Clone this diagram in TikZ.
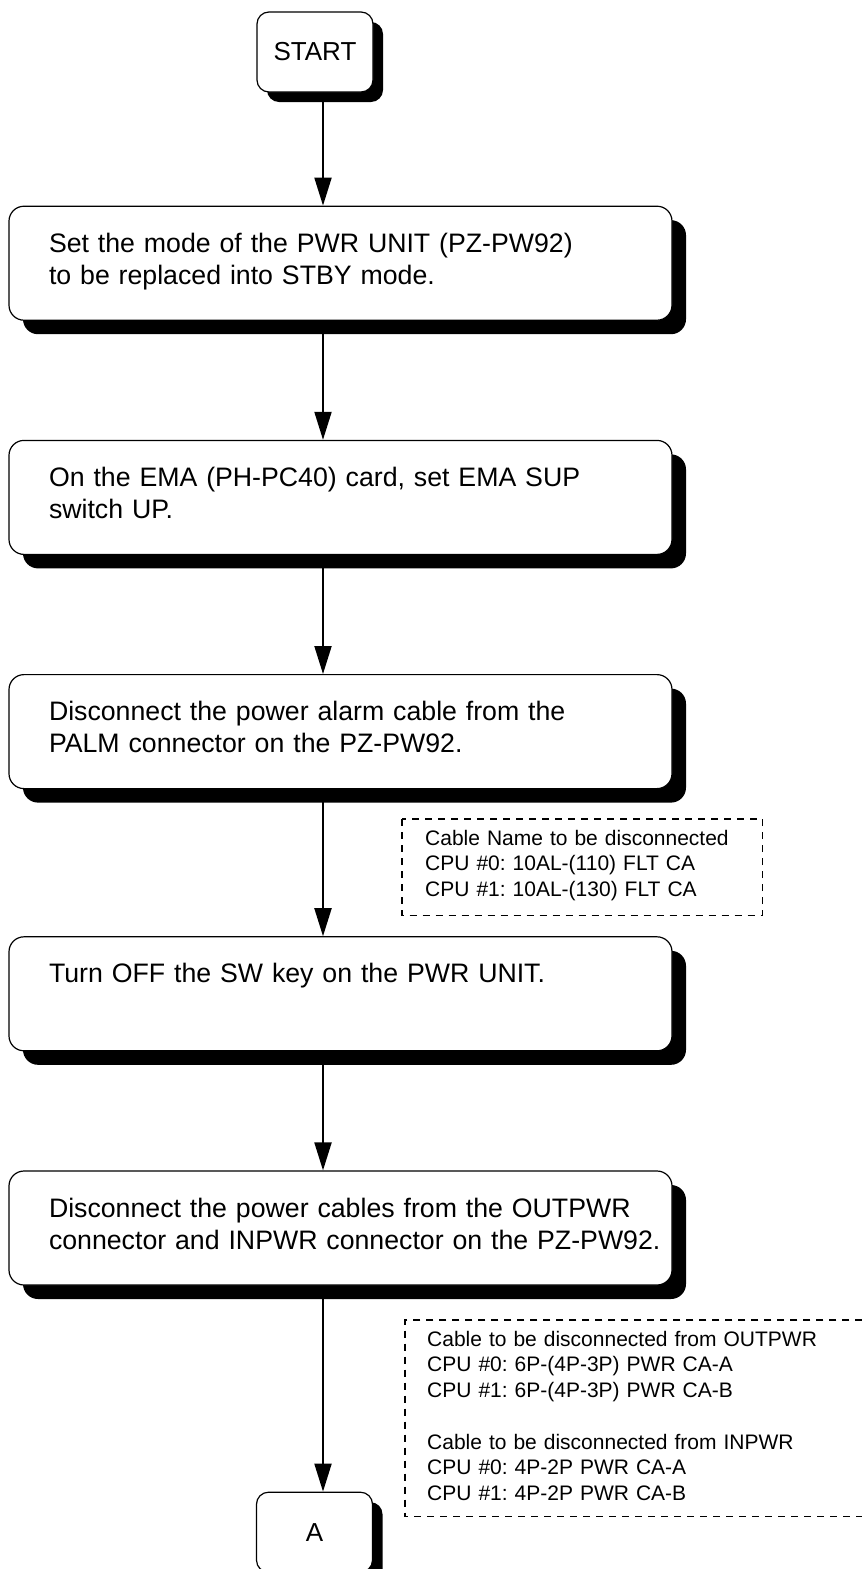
\documentclass[tikz,border=0pt]{standalone}
\usepackage{fontspec}
\setmainfont{Liberation Sans}
\frenchspacing
\usetikzlibrary{arrows.meta,positioning,shadows}

\begin{document}
\begin{tikzpicture}[
  x=1pt, y=-1pt,
  stepbox/.style={draw, line width=1.2pt, rounded corners=15pt, fill=white,
    drop shadow={shadow xshift=14pt, shadow yshift=-14pt, fill=black, opacity=1},
    minimum height=114pt, text width=663pt, inner xsep=0pt, inner ysep=0pt,
    align=left, text height=20pt, text depth=42pt,
    execute at begin node={\leftskip=40pt},
    font=\fontsize{26.7}{32}\selectfont},
  term/.style={draw, line width=1.2pt, rounded corners=12pt, fill=white,
    drop shadow={shadow xshift=10pt, shadow yshift=-10pt, fill=black, opacity=1},
    minimum width=116pt, minimum height=80pt, font=\fontsize{26}{31}\selectfont},
  note/.style={inner sep=0pt, align=left, text height=26pt,
    font=\fontsize{21}{25.7}\selectfont},
  noteline/.style={dash pattern=on 7pt off 6pt, line width=1.2pt},
  flow/.style={-{Triangle[length=28pt, width=17pt]}, line width=2pt}
]
\useasboundingbox (0,0) rectangle (862,1569);
\coordinate (axis) at (323,0);

\node[term] (start) at (315,52) {START};
\node[stepbox, below=113pt of start, xshift=25.5pt] (mode)
  {Set the mode of the PWR UNIT (PZ-PW92)\\to be replaced into STBY mode.};
\node[stepbox, below=119pt of mode] (ema)
  {On the EMA (PH-PC40) card, set EMA SUP\\switch UP.};
\node[stepbox, below=119pt of ema] (palm)
  {Disconnect the power alarm cable from the\\PALM connector on the PZ-PW92.};
\node[stepbox, below=147pt of palm] (swkey)
  {Turn OFF the SW key on the PWR UNIT.};
\node[stepbox, below=119pt of swkey] (cables)
  {Disconnect the power cables from the OUTPWR\\connector and INPWR connector on the PZ-PW92.};
\node[term, below=206pt of cables, xshift=-26pt] (cont) {A};

% cable notes
\node[note, anchor=north west, text width=314pt, inner xsep=23pt, text depth=70pt]
  (palmnote) at (402,819)
  {Cable Name to be disconnected\\CPU \#0: 10AL-(110) FLT CA\\CPU \#1: 10AL-(130) FLT CA};
\draw[noteline] (palmnote.north west) rectangle (palmnote.south east);
\node[note, anchor=north west, text width=413pt, inner xsep=22pt, text depth=170pt]
  (cablenote) at (405,1320)
  {Cable to be disconnected from OUTPWR\\CPU \#0: 6P-(4P-3P) PWR CA-A\\CPU \#1: 6P-(4P-3P) PWR CA-B\\[25.7pt]
   Cable to be disconnected from INPWR\\CPU \#0: 4P-2P PWR CA-A\\CPU \#1: 4P-2P PWR CA-B};
\draw[noteline] (cablenote.north east) -| (cablenote.south west) -- (cablenote.south east);

\draw[flow] (start.south -| axis) -- (mode.north -| axis);
\draw[flow] (mode.south -| axis) -- (ema.north -| axis);
\draw[flow] (ema.south -| axis) -- (palm.north -| axis);
\draw[flow] (palm.south -| axis) -- (swkey.north -| axis);
\draw[flow] (swkey.south -| axis) -- (cables.north -| axis);
\draw[flow] (cables.south -| axis) -- (cont.north -| axis);
\end{tikzpicture}
\end{document}
